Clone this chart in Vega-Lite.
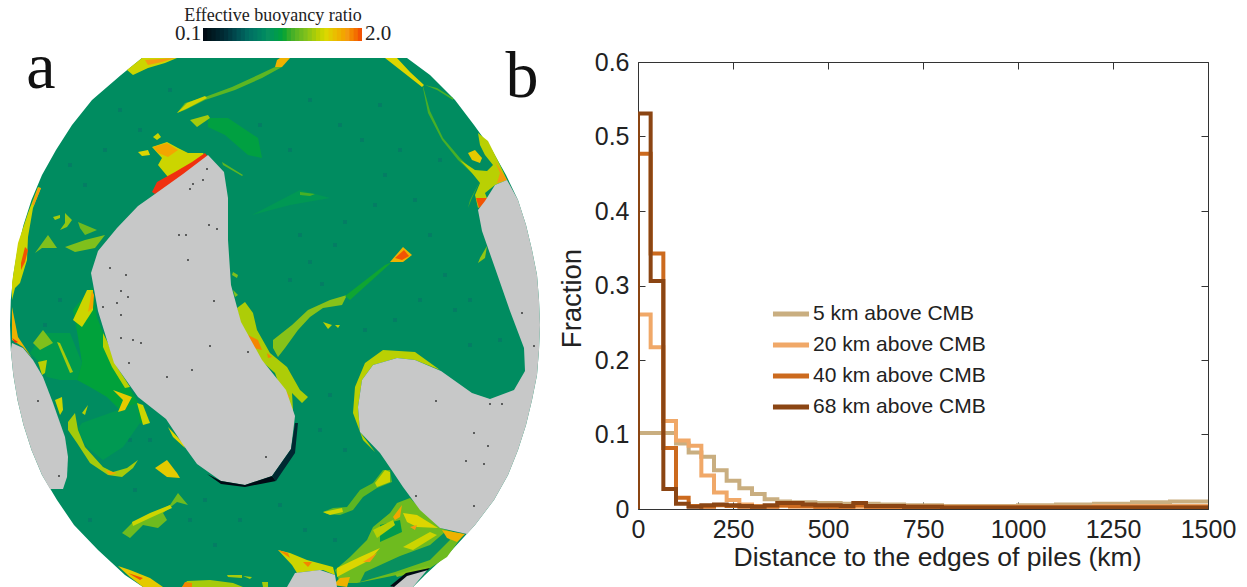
{
"$schema":"https://vega.github.io/schema/vega-lite/v6.json",
"padding":0,"autosize":{"type":"pad"},"background":"white","bounds":"flush","spacing":38,
"config":{"view":{"stroke":null}},
"datasets":{
"disk":[
{"id":"disk","ratio":0.82,"xs":[142,121,92,72,56,42,31.5,23.5,17.5,13.3,10.8,10,10.8,13.3,17.5,23.5,31.5,42,57,74,98,125,143,413,425,452,475,494,508,518,526,532,537,539,540,539,537,532,526,518,506,492,474,455,430,407],"ys":[58,75,100,125,150,175,200,225,250,275,300,325,350,375,400,425,450,475,500,525,550,575,587,587,575,550,525,500,475,450,425,400,375,350,325,300,275,250,225,200,175,150,125,100,75,58]}
],
"base":[
{"id":"tl","ratio":1.5,"xs":[127,142,177,165,148,133],"ys":[70,58,58,63,68,75]},
{"id":"tl2","ratio":1.8,"xs":[145,175,162,148],"ys":[60,58,62,65]},
{"id":"tm","ratio":1.7,"xs":[277,280,290,282,275],"ys":[60,58,58,67,67]},
{"id":"fil","ratio":1.2,"xs":[275,258,232,205,185,177,185,205,235,262,282],"ys":[67,75,87,97,103,113,110,100,90,78,67]},
{"id":"fil2","ratio":1.5,"xs":[177,187,205,207,188],"ys":[113,103,96,98,108]},
{"id":"up","ratio":1.0,"xs":[208,228,258,262,248,225,208],"ys":[118,118,138,158,155,135,127]},
{"id":"up2","ratio":1.4,"xs":[190,208,210,197],"ys":[120,115,118,127]},
{"id":"b1","ratio":1.5,"xs":[153,158,161,157],"ys":[137,133,137,140]},
{"id":"b2","ratio":1.55,"xs":[138,148,150,142],"ys":[152,150,155,156]},
{"id":"hot","ratio":1.5,"xs":[152,167,178,188,203,208,168,158,162],"ys":[147,142,148,153,153,160,177,165,158]},
{"id":"hot2","ratio":1.75,"xs":[153,167,178,168,158],"ys":[147,143,150,157,153]},
{"id":"hot3","ratio":2,"xs":[152,157,175,192,205,208,205,192,165,155],"ys":[192,182,172,162,153,157,163,170,188,194]},
{"id":"st","ratio":1.2,"xs":[222,243,242,223],"ys":[162,175,176,165]},
{"id":"le","ratio":1.5,"xs":[38,41,33,28,27,20,15,12,12,18,28],"ys":[187,188,208,237,260,283,288,300,283,243,213]},
{"id":"le2","ratio":1.95,"xs":[25,28,25,21,21],"ys":[247,250,262,270,263]},
{"id":"le4","ratio":1.8,"xs":[38,41,34,32],"ys":[188,188,205,205]},
{"id":"s1","ratio":1.3,"xs":[35,48,57,50,42],"ys":[253,235,248,248,248]},
{"id":"s2","ratio":1.4,"xs":[53,60,60,55],"ys":[217,215,218,220]},
{"id":"s3","ratio":1.35,"xs":[65,72,67,60,65],"ys":[213,220,227,230,223]},
{"id":"s4","ratio":1.25,"xs":[78,97,85,80],"ys":[222,230,235,228]},
{"id":"s5","ratio":1.3,"xs":[65,85,105,95,75],"ys":[247,240,235,248,252]},
{"id":"g3","ratio":0.95,"xs":[30,43,70,82,77,60,47,40],"ys":[353,333,333,363,380,380,377,363]},
{"id":"ga","ratio":1.02,"xs":[73,92,97,107,120,135,150,137,123,107,90,77,82,78],"ys":[310,287,317,343,373,397,423,423,413,397,387,380,363,337]},
{"id":"g2","ratio":0.93,"xs":[82,110,137,140,123,103,87,77],"ys":[423,413,403,423,447,460,447,430]},
{"id":"y1","ratio":1.5,"xs":[73,87,93,93,82],"ys":[320,290,290,310,327]},
{"id":"y1b","ratio":1.75,"xs":[88,92,94,93],"ys":[312,290,295,308]},
{"id":"y2","ratio":1.45,"xs":[103,108,117,130,125,112,103],"ys":[333,343,367,387,388,367,347]},
{"id":"y3","ratio":1.6,"xs":[113,132,125,118,123],"ys":[390,397,410,412,400]},
{"id":"y4","ratio":1.5,"xs":[137,143,150,143],"ys":[403,405,423,425]},
{"id":"y5","ratio":1.4,"xs":[57,60,73,70],"ys":[342,343,372,373]},
{"id":"y6","ratio":1.3,"xs":[33,43,53,40],"ys":[343,330,343,350]},
{"id":"y7","ratio":1.45,"xs":[38,47,45,42],"ys":[362,360,373,375]},
{"id":"y8","ratio":1.5,"xs":[55,62,63,60],"ys":[400,397,410,415]},
{"id":"y9","ratio":1.45,"xs":[82,88,85],"ys":[413,405,415]},
{"id":"y10","ratio":1.4,"xs":[68,75,78,85,103,113,127,138,133,122,108,90,77,68],"ys":[422,413,430,447,467,472,468,460,468,477,475,463,443,430]},
{"id":"y10b","ratio":1.75,"xs":[105,117,110],"ys":[470,473,475]},
{"id":"y11","ratio":1.6,"xs":[155,167,177,180,167],"ys":[468,460,473,478,477]},
{"id":"y12","ratio":1.55,"xs":[168,183,185,173],"ys":[427,443,448,437]},
{"id":"ed","ratio":1.7,"xs":[12,18,32,23,12],"ys":[307,337,358,347,340]},
{"id":"ed2","ratio":2,"xs":[12,18,15],"ys":[338,342,343]},
{"id":"rp","ratio":1.42,"xs":[237,245,253,257,270,287,300,308,302,292,293,288,275,257,243],"ys":[308,302,313,330,353,367,390,397,403,393,410,410,373,357,337]},
{"id":"rp2","ratio":1.85,"xs":[248,258,262,253],"ys":[335,340,350,348]},
{"id":"rp3","ratio":1.85,"xs":[267,272,268],"ys":[353,357,358]},
{"id":"rp4","ratio":1.8,"xs":[285,290,288],"ys":[390,397,398]},
{"id":"arc","ratio":1.32,"xs":[273,292,308,330,347,342,323,310,298,285,278,273],"ys":[340,325,310,300,295,305,308,317,330,348,357,348]},
{"id":"ar2","ratio":1.05,"xs":[345,385,392,350],"ys":[296,265,262,300]},
{"id":"sp1","ratio":1.3,"xs":[233,238,237,232],"ys":[272,275,278,275]},
{"id":"sp2","ratio":1.3,"xs":[233,238,235],"ys":[290,295,297]},
{"id":"bl","ratio":1.7,"xs":[390,403,412,403],"ys":[262,247,255,262]},
{"id":"bl2","ratio":1.95,"xs":[395,404,409,402],"ys":[258,250,256,260]},
{"id":"d1","ratio":1.45,"xs":[323,332,328],"ys":[322,325,329]},
{"id":"d2","ratio":1.45,"xs":[335,340,338],"ys":[325,325,328]},
{"id":"f1","ratio":0.92,"xs":[252,300,330,290],"ys":[215,190,198,205]},
{"id":"f2","ratio":1.15,"xs":[300,315,310,300],"ys":[192,194,196,195]},
{"id":"ur","ratio":1.55,"xs":[385,397,410,424,422,408],"ys":[58,58,72,85,87,76]},
{"id":"ur2","ratio":1.15,"xs":[423,430,443,460,477,475,458,442,428,423],"ys":[86,111,138,158,175,176,160,140,113,88]},
{"id":"ur2b","ratio":1.15,"xs":[425,437,453,453,437],"ys":[85,88,98,100,90]},
{"id":"ur3","ratio":1.45,"xs":[478,488,500,507,495,485,488,478,475,480,472,460,475,487,493,485,480],"ys":[133,141,165,180,185,193,201,208,195,183,173,160,170,171,165,155,145]},
{"id":"ur5","ratio":1.8,"xs":[495,507,497,500],"ys":[161,180,183,173]},
{"id":"ur4","ratio":1.95,"xs":[476,487,487,479],"ys":[198,198,201,208]},
{"id":"ur6","ratio":1.6,"xs":[468,475,482,480,472],"ys":[153,150,158,163,160]},
{"id":"ur8","ratio":1.15,"xs":[480,472,468,470],"ys":[181,198,208,200]},
{"id":"ur7","ratio":1.35,"xs":[487,485,478,480],"ys":[246,258,263,258]},
{"id":"rim","ratio":1.45,"xs":[440,415,383,365,355,353,363,375,360,358,362,373,397,415],"ys":[370,352,350,363,387,413,440,452,432,407,380,365,358,360]},
{"id":"u1","ratio":1.2,"xs":[323,333,347,360,373,383,390,392,377,363,353,340,327],"ys":[512,508,507,490,483,470,470,482,488,497,510,515,514]},
{"id":"u2","ratio":1.5,"xs":[323,342,343,330],"ys":[512,508,512,515]},
{"id":"u3","ratio":1.5,"xs":[375,385,390,390,377],"ys":[483,470,472,482,487]},
{"id":"lr","ratio":1.25,"xs":[397,410,440,463,447,427,397,357,340,335,350,367,373,390],"ys":[503,498,528,535,557,570,575,583,583,570,557,540,527,513]},
{"id":"lr1","ratio":0.85,"xs":[365,400,430,445,450,430,395,360],"ys":[572,556,545,532,540,560,572,582]},
{"id":"lr1b","ratio":1.3,"xs":[395,428,430,397],"ys":[574,566,568,577]},
{"id":"lr1c","ratio":0.95,"xs":[380,400,402,380],"ys":[525,520,532,542]},
{"id":"b1l","ratio":1.55,"xs":[403,417,438,417,407],"ys":[513,515,528,527,522]},
{"id":"b1o","ratio":1.8,"xs":[410,417,415],"ys":[527,525,530]},
{"id":"b2l","ratio":1.75,"xs":[393,402,400,395],"ys":[517,505,517,520]},
{"id":"b3l","ratio":1.5,"xs":[403,430,437,413],"ys":[547,532,535,550]},
{"id":"b4l","ratio":1.55,"xs":[337,360,380,370,350,337],"ys":[568,557,548,560,570,577]},
{"id":"b4o","ratio":1.8,"xs":[363,377,370],"ys":[562,553,562]},
{"id":"b5l","ratio":1.45,"xs":[373,393,395,377],"ys":[530,520,525,538]},
{"id":"tip","ratio":1.7,"xs":[442,465,457,447],"ys":[530,534,542,538]},
{"id":"bm","ratio":1.5,"xs":[278,290,307,333,335,323,303,297,292],"ys":[550,553,560,567,575,570,572,573,565]},
{"id":"bm1","ratio":1.85,"xs":[278,288,290],"ys":[550,553,558]},
{"id":"bm2","ratio":1.85,"xs":[303,312,308],"ys":[562,562,567]},
{"id":"bm3","ratio":1.7,"xs":[333,340,350,347],"ys":[585,578,577,587]},
{"id":"st1","ratio":1.25,"xs":[122,133,150,170,178,188,177,163,167,158,143,130],"ys":[533,522,515,505,493,505,502,513,520,528,525,538]},
{"id":"st2","ratio":1.5,"xs":[132,150,170,172,150,133],"ys":[522,513,505,508,518,526]},
{"id":"be","ratio":1.6,"xs":[118,130,150,163,143,130],"ys":[566,570,578,587,587,577]},
{"id":"be2","ratio":1.95,"xs":[128,143,140],"ys":[573,578,580]},
{"id":"bo","ratio":1.4,"xs":[182,187,210,233,243],"ys":[587,581,580,583,587]},
{"id":"bo2","ratio":1.85,"xs":[182,185,192,192],"ys":[587,582,583,587]},
{"id":"bo3","ratio":1.4,"xs":[227,242,242,228],"ys":[575,575,578,577]},
{"id":"bo4","ratio":1.4,"xs":[243,252,250],"ys":[576,577,579]},
{"id":"bo5","ratio":1.4,"xs":[262,268,268,263],"ys":[582,582,587,587]}
],
"piles":[
{"id":"centre","xs":[208,224,228,228,231,241,262,286,295,291,272,245,221,197,184,166,138,114,98,91,98,117,138,155,183],"ys":[155,172,198,240,285,322,360,390,416,449,476,485,481,464,446,419,397,363,311,273,251,228,206,194,174]},
{"id":"left","xs":[12,23,33,43,53,65,68,67,63,50,42,31.5,23.5,17.5,13.3,10.8],"ys":[343,348,360,377,403,437,457,477,489,489,475,450,425,400,375,350]},
{"id":"right","xs":[507,495,485,478,482,495,510,524,525,514,490,472,441,415,397,373,362,358,360,380,393,403,420,440,467,475,494,508,518,526,532,537,539,540,539,537,532,526,518],"ys":[180,185,201,210,231,268,311,348,371,390,399,393,371,360,358,365,380,407,432,453,472,487,510,528,534,525,500,475,450,425,400,375,350,325,300,275,250,225,200]},
{"id":"bottom","xs":[287,295,320,335,337],"ys":[587,573,570,575,587]},
{"id":"bottom2","xs":[392,405,428,413],"ys":[587,575,569,587]}
],
"edge":[
{"id":"rimb","ratio":0.1,"xs":[207,221,245,272,276,245,221],"ys":[474,481,485,476,481,487,484]},
{"id":"rimt","ratio":0.3,"xs":[272,291,295,298,295,276],"ys":[476,449,423,423,453,481]},
{"id":"rimc","ratio":0.1,"xs":[390,406,430,428,407,394],"ys":[586,573,568,570,576,587]}
]
},
"hconcat":[
{"width":600,"height":587,
"resolve":{"scale":{"x":"independent"}},
"layer":[
{"data":{"name":"disk"},"transform":[{"flatten":["xs","ys"]},{"window":[{"op":"row_number","as":"i"}]}],
"mark":{"type":"line","strokeWidth":0},
"encoding":{"x":{"field":"xs","type":"quantitative","axis":null,"scale":{"domain":[0,600],"nice":false,"zero":false}},
"y":{"field":"ys","type":"quantitative","axis":null,"scale":{"domain":[587,0],"nice":false,"zero":false}},
"detail":{"field":"id"},"order":{"field":"i","type":"quantitative"},
"fill":{"field":"ratio","type":"quantitative","legend":null,"scale":{"domain":[0.1,0.35,0.6,0.85,1.06,1.3,1.54,1.8,2],"range":["#000000","#00313a","#006a60","#08905f","#14a62e","#7fc01c","#dcd800","#f49a10","#f0300f"]}}}},
{"data":{"values":[{"x":300,"y":235},{"x":310,"y":262},{"x":322,"y":284},{"x":335,"y":245},{"x":345,"y":222},{"x":290,"y":280},{"x":385,"y":175},{"x":400,"y":150},{"x":415,"y":200},{"x":430,"y":235},{"x":445,"y":275},{"x":455,"y":310},{"x":470,"y":345},{"x":420,"y":300},{"x":395,"y":320},{"x":375,"y":205},{"x":362,"y":140},{"x":340,"y":125},{"x":310,"y":100},{"x":120,"y":110},{"x":105,"y":150},{"x":85,"y":185},{"x":140,"y":130},{"x":70,"y":165},{"x":60,"y":300},{"x":45,"y":325},{"x":150,"y":440},{"x":130,"y":440},{"x":190,"y":520},{"x":215,"y":545},{"x":240,"y":520},{"x":280,"y":505},{"x":305,"y":530},{"x":335,"y":540},{"x":205,"y":500},{"x":90,"y":520},{"x":135,"y":490},{"x":320,"y":430},{"x":330,"y":395},{"x":345,"y":450},{"x":365,"y":330},{"x":260,"y":125},{"x":290,"y":150},{"x":470,"y":300},{"x":500,"y":340},{"x":440,"y":160},{"x":380,"y":105},{"x":170,"y":90}]},
"mark":{"type":"square","size":14,"color":"#0a6c6a","opacity":0.5},
"encoding":{"x":{"field":"x","type":"quantitative","axis":null,"scale":{"domain":[0,600],"nice":false,"zero":false}},"y":{"field":"y","type":"quantitative","axis":null}}},
{"data":{"name":"base"},"transform":[{"flatten":["xs","ys"]},{"window":[{"op":"row_number","as":"i"}]}],
"mark":{"type":"line","strokeWidth":0},
"encoding":{"x":{"field":"xs","type":"quantitative","axis":null,"scale":{"domain":[0,600],"nice":false,"zero":false}},
"y":{"field":"ys","type":"quantitative","axis":null},
"detail":{"field":"id"},"order":{"field":"i","type":"quantitative"},
"fill":{"field":"ratio","type":"quantitative","legend":null}}},
{"data":{"name":"piles"},"transform":[{"flatten":["xs","ys"]},{"window":[{"op":"row_number","as":"i"}]}],
"mark":{"type":"line","strokeWidth":0,"fill":"#c7c8c8"},
"encoding":{"x":{"field":"xs","type":"quantitative","axis":null,"scale":{"domain":[0,600],"nice":false,"zero":false}},
"y":{"field":"ys","type":"quantitative","axis":null},
"detail":{"field":"id"},"order":{"field":"i","type":"quantitative"}}},
{"data":{"name":"edge"},"transform":[{"flatten":["xs","ys"]},{"window":[{"op":"row_number","as":"i"}]}],
"mark":{"type":"line","strokeWidth":0},
"encoding":{"x":{"field":"xs","type":"quantitative","axis":null,"scale":{"domain":[0,600],"nice":false,"zero":false}},
"y":{"field":"ys","type":"quantitative","axis":null},
"detail":{"field":"id"},"order":{"field":"i","type":"quantitative"},
"fill":{"field":"ratio","type":"quantitative","legend":null}}},
{"data":{"values":[{"x":207,"y":169},{"x":193,"y":184},{"x":190,"y":189},{"x":203,"y":180},{"x":209,"y":225},{"x":217,"y":229},{"x":179,"y":235},{"x":186,"y":235},{"x":188,"y":260},{"x":110,"y":268},{"x":126,"y":275},{"x":121,"y":291},{"x":128,"y":297},{"x":117,"y":303},{"x":103,"y":307},{"x":121,"y":315},{"x":214,"y":301},{"x":121,"y":338},{"x":133,"y":340},{"x":141,"y":343},{"x":210,"y":346},{"x":248,"y":352},{"x":129,"y":363},{"x":192,"y":370},{"x":167,"y":377},{"x":266,"y":457},{"x":436,"y":401},{"x":490,"y":404},{"x":502,"y":404},{"x":474,"y":433},{"x":488,"y":446},{"x":466,"y":461},{"x":484,"y":464},{"x":416,"y":496},{"x":474,"y":506},{"x":522,"y":313},{"x":534,"y":346},{"x":38,"y":401},{"x":59,"y":476}]},
"mark":{"type":"square","size":3,"color":"#222222","opacity":1},
"encoding":{"x":{"field":"x","type":"quantitative","axis":null,"scale":{"domain":[0,600],"nice":false,"zero":false}},"y":{"field":"y","type":"quantitative","axis":null}}},
{"data":{"values":[{"ratio":0.1,"ratio2":0.2},{"ratio":0.15,"ratio2":0.25},{"ratio":0.2,"ratio2":0.3},{"ratio":0.25,"ratio2":0.35},{"ratio":0.3,"ratio2":0.4},{"ratio":0.35,"ratio2":0.45},{"ratio":0.4,"ratio2":0.5},{"ratio":0.45,"ratio2":0.55},{"ratio":0.5,"ratio2":0.6},{"ratio":0.55,"ratio2":0.65},{"ratio":0.6,"ratio2":0.7},{"ratio":0.65,"ratio2":0.75},{"ratio":0.7,"ratio2":0.8},{"ratio":0.75,"ratio2":0.85},{"ratio":0.8,"ratio2":0.9},{"ratio":0.85,"ratio2":0.95},{"ratio":0.9,"ratio2":1.0},{"ratio":0.95,"ratio2":1.05},{"ratio":1.0,"ratio2":1.1},{"ratio":1.05,"ratio2":1.15},{"ratio":1.1,"ratio2":1.2},{"ratio":1.15,"ratio2":1.25},{"ratio":1.2,"ratio2":1.3},{"ratio":1.25,"ratio2":1.35},{"ratio":1.3,"ratio2":1.4},{"ratio":1.35,"ratio2":1.45},{"ratio":1.4,"ratio2":1.5},{"ratio":1.45,"ratio2":1.55},{"ratio":1.5,"ratio2":1.6},{"ratio":1.55,"ratio2":1.65},{"ratio":1.6,"ratio2":1.7},{"ratio":1.65,"ratio2":1.75},{"ratio":1.7,"ratio2":1.8},{"ratio":1.75,"ratio2":1.85},{"ratio":1.8,"ratio2":1.9},{"ratio":1.85,"ratio2":1.95},{"ratio":1.9,"ratio2":2.0},{"ratio":1.95,"ratio2":2.0}]},
"mark":{"type":"rect"},
"encoding":{"x":{"field":"ratio","type":"quantitative","axis":null,"scale":{"domain":[0.1,2.0],"range":[203,362],"nice":false,"zero":false}},"x2":{"field":"ratio2"},"y":{"datum":28,"type":"quantitative","axis":null},"y2":{"datum":41},
"fill":{"field":"ratio","type":"quantitative","legend":null}}},
{"data":{"values":[{"label":"a","x":41,"y":88},{"label":"b","x":522,"y":97}]},
"mark":{"type":"text","font":"Liberation Serif","fontSize":66,"align":"center","baseline":"alphabetic","color":"#111111"},
"encoding":{"x":{"field":"x","type":"quantitative","axis":null,"scale":{"domain":[0,600],"nice":false,"zero":false}},"y":{"field":"y","type":"quantitative","axis":null},"text":{"field":"label"}}},
{"data":{"values":[{"label":"Effective buoyancy ratio","x":273,"y":21}]},
"mark":{"type":"text","font":"Liberation Serif","fontSize":18,"align":"center","baseline":"alphabetic","color":"#222222"},
"encoding":{"x":{"field":"x","type":"quantitative","axis":null,"scale":{"domain":[0,600],"nice":false,"zero":false}},"y":{"field":"y","type":"quantitative","axis":null},"text":{"field":"label"}}},
{"data":{"values":[{"label":"0.1","x":188,"y":40},{"label":"2.0","x":378,"y":40}]},
"mark":{"type":"text","font":"Liberation Serif","fontSize":21,"align":"center","baseline":"alphabetic","color":"#222222"},
"encoding":{"x":{"field":"x","type":"quantitative","axis":null,"scale":{"domain":[0,600],"nice":false,"zero":false}},"y":{"field":"y","type":"quantitative","axis":null},"text":{"field":"label"}}}
]},
{"vconcat":[
{"width":570,"height":62,"data":{"values":[{"v":0}]},"mark":{"type":"point","opacity":0},"encoding":{"x":{"field":"v","type":"quantitative","axis":null},"y":{"field":"v","type":"quantitative","axis":null}}},
{"width":570,"height":447,
"data":{"values":[
{"level":"5 km above CMB","distance":0,"fraction":0},{"level":"5 km above CMB","distance":0,"fraction":0.102},{"level":"5 km above CMB","distance":33.3,"fraction":0.102},{"level":"5 km above CMB","distance":66.7,"fraction":0.102},{"level":"5 km above CMB","distance":100,"fraction":0.088},{"level":"5 km above CMB","distance":133.3,"fraction":0.076},{"level":"5 km above CMB","distance":166.7,"fraction":0.07},{"level":"5 km above CMB","distance":200,"fraction":0.052},{"level":"5 km above CMB","distance":233.3,"fraction":0.038},{"level":"5 km above CMB","distance":266.7,"fraction":0.028},{"level":"5 km above CMB","distance":300,"fraction":0.02},{"level":"5 km above CMB","distance":333.3,"fraction":0.013},{"level":"5 km above CMB","distance":366.7,"fraction":0.01},{"level":"5 km above CMB","distance":400,"fraction":0.009},{"level":"5 km above CMB","distance":433.3,"fraction":0.009},{"level":"5 km above CMB","distance":466.7,"fraction":0.008},{"level":"5 km above CMB","distance":500,"fraction":0.008},{"level":"5 km above CMB","distance":533.3,"fraction":0.007},{"level":"5 km above CMB","distance":600,"fraction":0.007},{"level":"5 km above CMB","distance":633.3,"fraction":0.006},{"level":"5 km above CMB","distance":700,"fraction":0.005},{"level":"5 km above CMB","distance":800,"fraction":0.004},{"level":"5 km above CMB","distance":900,"fraction":0.004},{"level":"5 km above CMB","distance":1000,"fraction":0.005},{"level":"5 km above CMB","distance":1100,"fraction":0.006},{"level":"5 km above CMB","distance":1200,"fraction":0.007},{"level":"5 km above CMB","distance":1300,"fraction":0.009},{"level":"5 km above CMB","distance":1400,"fraction":0.01},{"level":"5 km above CMB","distance":1500,"fraction":0.01},
{"level":"20 km above CMB","distance":0,"fraction":0},{"level":"20 km above CMB","distance":0,"fraction":0.261},{"level":"20 km above CMB","distance":33.3,"fraction":0.217},{"level":"20 km above CMB","distance":66.7,"fraction":0.118},{"level":"20 km above CMB","distance":100,"fraction":0.092},{"level":"20 km above CMB","distance":133.3,"fraction":0.085},{"level":"20 km above CMB","distance":166.7,"fraction":0.045},{"level":"20 km above CMB","distance":200,"fraction":0.022},{"level":"20 km above CMB","distance":233.3,"fraction":0.012},{"level":"20 km above CMB","distance":266.7,"fraction":0.006},{"level":"20 km above CMB","distance":300,"fraction":0.004},{"level":"20 km above CMB","distance":400,"fraction":0.003},{"level":"20 km above CMB","distance":500,"fraction":0.003},{"level":"20 km above CMB","distance":600,"fraction":0.003},{"level":"20 km above CMB","distance":700,"fraction":0.003},{"level":"20 km above CMB","distance":800,"fraction":0.003},{"level":"20 km above CMB","distance":900,"fraction":0.003},{"level":"20 km above CMB","distance":1000,"fraction":0.003},{"level":"20 km above CMB","distance":1100,"fraction":0.003},{"level":"20 km above CMB","distance":1200,"fraction":0.004},{"level":"20 km above CMB","distance":1300,"fraction":0.004},{"level":"20 km above CMB","distance":1500,"fraction":0.004},
{"level":"40 km above CMB","distance":0,"fraction":0},{"level":"40 km above CMB","distance":0,"fraction":0.477},{"level":"40 km above CMB","distance":33.3,"fraction":0.343},{"level":"40 km above CMB","distance":66.7,"fraction":0.082},{"level":"40 km above CMB","distance":100,"fraction":0.015},{"level":"40 km above CMB","distance":133.3,"fraction":0.004},{"level":"40 km above CMB","distance":166.7,"fraction":0.003},{"level":"40 km above CMB","distance":200,"fraction":0.005},{"level":"40 km above CMB","distance":233.3,"fraction":0.004},{"level":"40 km above CMB","distance":266.7,"fraction":0.003},{"level":"40 km above CMB","distance":366.7,"fraction":0.005},{"level":"40 km above CMB","distance":400,"fraction":0.004},{"level":"40 km above CMB","distance":466.7,"fraction":0.003},{"level":"40 km above CMB","distance":566.7,"fraction":0.005},{"level":"40 km above CMB","distance":600,"fraction":0.003},{"level":"40 km above CMB","distance":800,"fraction":0.002},{"level":"40 km above CMB","distance":1000,"fraction":0.002},{"level":"40 km above CMB","distance":1200,"fraction":0.002},{"level":"40 km above CMB","distance":1500,"fraction":0.002},
{"level":"68 km above CMB","distance":0,"fraction":0},{"level":"68 km above CMB","distance":0,"fraction":0.531},{"level":"68 km above CMB","distance":33.3,"fraction":0.306},{"level":"68 km above CMB","distance":66.7,"fraction":0.027},{"level":"68 km above CMB","distance":100,"fraction":0.007},{"level":"68 km above CMB","distance":133.3,"fraction":0.003},{"level":"68 km above CMB","distance":166.7,"fraction":0.005},{"level":"68 km above CMB","distance":200,"fraction":0.006},{"level":"68 km above CMB","distance":233.3,"fraction":0.005},{"level":"68 km above CMB","distance":266.7,"fraction":0.004},{"level":"68 km above CMB","distance":300,"fraction":0.003},{"level":"68 km above CMB","distance":333.3,"fraction":0.005},{"level":"68 km above CMB","distance":366.7,"fraction":0.008},{"level":"68 km above CMB","distance":400,"fraction":0.008},{"level":"68 km above CMB","distance":433.3,"fraction":0.006},{"level":"68 km above CMB","distance":466.7,"fraction":0.005},{"level":"68 km above CMB","distance":533.3,"fraction":0.004},{"level":"68 km above CMB","distance":566.7,"fraction":0.008},{"level":"68 km above CMB","distance":600,"fraction":0.004},{"level":"68 km above CMB","distance":700,"fraction":0.003},{"level":"68 km above CMB","distance":800,"fraction":0.002},{"level":"68 km above CMB","distance":1000,"fraction":0.002},{"level":"68 km above CMB","distance":1200,"fraction":0.002},{"level":"68 km above CMB","distance":1500,"fraction":0.002}
]},
"resolve":{"axis":{"x":"independent","y":"independent"}},
"layer":[
{"mark":{"type":"line","interpolate":"step-after","strokeWidth":4,"clip":true},
"encoding":{"x":{"field":"distance","type":"quantitative","scale":{"domain":[0,1500],"nice":false},
"axis":{"orient":"bottom","values":[0,250,500,750,1000,1250,1500],"format":"d","labelFlush":false,"title":"Distance to the edges of piles (km)","grid":false,"tickSize":-7,"labelFont":"Liberation Sans","labelFontSize":25,"labelColor":"#222222","labelPadding":15,"titleFont":"Liberation Sans","titleFontSize":26.5,"titleFontWeight":"normal","titleColor":"#222222","titlePadding":2,"titleX":299,"domainColor":"#333333","tickColor":"#333333"}},
"y":{"field":"fraction","type":"quantitative","scale":{"domain":[0,0.6],"nice":false},
"axis":{"orient":"left","values":[0,0.1,0.2,0.3,0.4,0.5,0.6],"format":".1f","labelFlush":false,"labelExpr":"datum.value==0?'0':datum.label","title":"Fraction","grid":false,"tickSize":-7,"labelFont":"Liberation Sans","labelFontSize":25,"labelColor":"#222222","labelPadding":16,"titleFont":"Liberation Sans","titleFontSize":27.5,"titleFontWeight":"normal","titleColor":"#222222","titlePadding":8,"titleY":236,"domainColor":"#333333","tickColor":"#333333"}},
"color":{"field":"level","type":"nominal","scale":{"domain":["5 km above CMB","20 km above CMB","40 km above CMB","68 km above CMB"],"range":["#c9ae80","#f0a868","#cc6a1e","#8b4513"]},
"legend":{"orient":"none","legendX":770,"legendY":293,"title":null,"symbolType":"stroke","symbolStrokeWidth":5,"symbolSize":1300,"labelFont":"Liberation Sans","labelFontSize":21,"labelLimit":400,"labelColor":"#222222","rowPadding":0,"labelOffset":1}}}},
{"mark":{"type":"line","opacity":0},
"encoding":{"x":{"field":"distance","type":"quantitative","axis":{"orient":"top","values":[0,250,500,750,1000,1250,1500],"labels":false,"title":null,"grid":false,"tickSize":-7,"domainColor":"#333333","tickColor":"#333333"}},
"y":{"field":"fraction","type":"quantitative","axis":{"orient":"right","values":[0,0.1,0.2,0.3,0.4,0.5,0.6],"labels":false,"title":null,"grid":false,"tickSize":-7,"domainColor":"#333333","tickColor":"#333333"}},
"detail":{"field":"level"}}}
]}
],"spacing":0,"bounds":"flush"}
]
}
